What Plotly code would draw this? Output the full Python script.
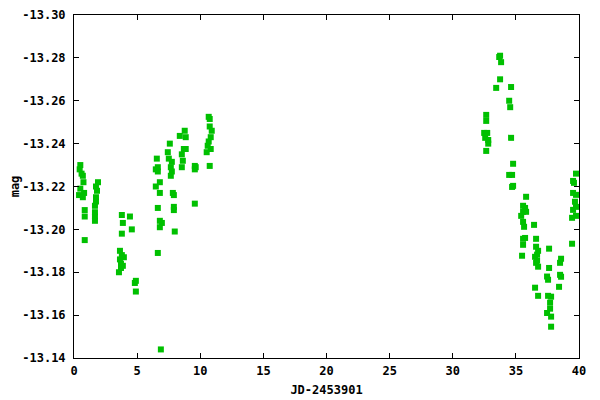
import plotly.graph_objects as go

# pontos (dias desde JD 2453901, magnitude)
jd = [
    0.5, 0.45, 0.6, 0.7, 0.75, 0.5, 0.8, 0.4, 0.7, 0.85, 0.85, 0.85,
    1.9, 1.74, 1.82, 1.74, 1.74, 1.66, 1.66, 1.66, 1.66,
    3.79, 4.43, 3.87, 4.58, 3.79, 3.64, 3.79, 3.95, 3.72, 3.72, 3.56, 3.64, 3.87,
    4.90, 4.82, 4.90,
    6.56, 6.64, 6.48, 6.64, 6.80, 6.48, 6.80, 6.64, 6.80, 6.96, 6.80, 6.64, 6.88,
    7.59, 7.43, 7.51, 7.75, 7.67, 7.75, 7.67, 7.83, 7.91, 7.91, 7.91, 7.98,
    8.38, 8.77, 8.85, 8.70, 8.85, 8.54, 8.62, 8.54,
    9.57, 9.64, 9.57, 9.57,
    10.67, 10.75, 10.75, 10.91, 10.83, 10.67, 10.59, 10.83, 10.51, 10.75,
    32.65, 32.65, 32.49, 32.73, 32.57, 32.81, 32.81, 32.65,
    33.75, 33.68, 33.83, 33.75, 33.44, 34.62, 34.47, 34.55, 34.62, 34.78,
    34.47, 34.70, 34.78, 34.70,
    35.81, 35.57, 35.73, 35.57, 35.81, 35.42, 35.57, 35.65, 36.44, 35.73,
    35.57, 35.57, 35.49,
    36.60, 36.60, 36.76, 36.68, 36.52, 36.68, 36.60, 36.76, 36.52, 36.76,
    37.63, 37.63, 37.47, 37.55, 37.55, 37.79, 37.71, 37.71, 37.47, 37.79, 37.79,
    38.58, 38.50, 38.58, 38.50, 38.42,
    39.45, 39.76, 39.53, 39.60, 39.53, 39.76, 39.68, 39.76, 39.53, 39.76, 39.45,
]
mag = [
    -13.230, -13.228, -13.226, -13.225, -13.222, -13.219, -13.217, -13.216, -13.215, -13.209, -13.206, -13.195,
    -13.222, -13.220, -13.218, -13.215, -13.213, -13.211, -13.208, -13.206, -13.204,
    -13.2067, -13.206, -13.203, -13.200, -13.198, -13.190, -13.188, -13.187, -13.184, -13.182, -13.180, -13.186, -13.183,
    -13.176, -13.175, -13.171,
    -13.233, -13.229, -13.228, -13.227, -13.222, -13.220, -13.217, -13.210, -13.204, -13.203, -13.201, -13.189, -13.144,
    -13.240, -13.236, -13.233, -13.2315, -13.229, -13.227, -13.225, -13.217, -13.216, -13.2105, -13.209, -13.199,
    -13.2436, -13.246, -13.243, -13.2375, -13.2375, -13.235, -13.232, -13.229,
    -13.2296, -13.229, -13.228, -13.212,
    -13.2525, -13.2515, -13.248, -13.246, -13.243, -13.241, -13.239, -13.2375, -13.236, -13.2296,
    -13.2534, -13.2506, -13.245, -13.245, -13.2427, -13.2417, -13.240, -13.2366,
    -13.281, -13.2804, -13.278, -13.270, -13.266, -13.2664, -13.260, -13.257, -13.2427, -13.2306,
    -13.2254, -13.2254, -13.2203, -13.2198,
    -13.2152, -13.211, -13.210, -13.2082, -13.2082, -13.2063, -13.2035, -13.2012, -13.2021, -13.196,
    -13.1956, -13.1928, -13.1877,
    -13.1956, -13.1919, -13.190, -13.1882, -13.1872, -13.1854, -13.1844, -13.1826, -13.1728, -13.169,
    -13.191, -13.182, -13.178, -13.1765, -13.169, -13.1686, -13.1658, -13.163, -13.161, -13.1593, -13.1546,
    -13.1863, -13.1844, -13.1779, -13.1788, -13.1732,
    -13.1933, -13.226, -13.2226, -13.2217, -13.217, -13.2161, -13.2129, -13.2105, -13.2091, -13.2063, -13.2054,
]

x_ticks = [0, 5, 10, 15, 20, 25, 30, 35, 40]
y_ticks = [-13.30, -13.28, -13.26, -13.24, -13.22, -13.20, -13.18, -13.16, -13.14]
y_labels = ['-13.30', '-13.28', '-13.26', '-13.24', '-13.22', '-13.20', '-13.18', '-13.16', '-13.14']

fonte = dict(family='DejaVu Sans Mono', size=12, color='black', weight='bold')

trace = go.Scatter(x=jd, y=mag, mode='markers',
                   marker=dict(symbol='square', size=6, color='#00c000',
                               line=dict(width=0)),
                   showlegend=False)

fig = go.Figure(data=[trace])

eixo = dict(showline=True, linecolor='black', linewidth=1, mirror='ticks',
            ticks='inside', ticklen=5, tickcolor='black', showgrid=False,
            zeroline=False, tickfont=fonte, automargin=False)

# a pagina tem 8px de margem no body, por isso l/t menores
fig.update_layout(
    width=600, height=400,
    margin=dict(l=66, r=29, t=7, b=50, autoexpand=False),
    paper_bgcolor='white', plot_bgcolor='white',
    font=fonte,
    xaxis=dict(eixo, range=[0, 40], tickvals=x_ticks, ticklabelstandoff=2,
               title=dict(text='JD-2453901', font=fonte, standoff=8)),
    yaxis=dict(eixo, range=[-13.14, -13.30], tickvals=y_ticks, ticktext=y_labels,
               ticklabelstandoff=5,
               title=dict(text='mag', font=fonte, standoff=8)),
)

fig.write_html("out.html")
